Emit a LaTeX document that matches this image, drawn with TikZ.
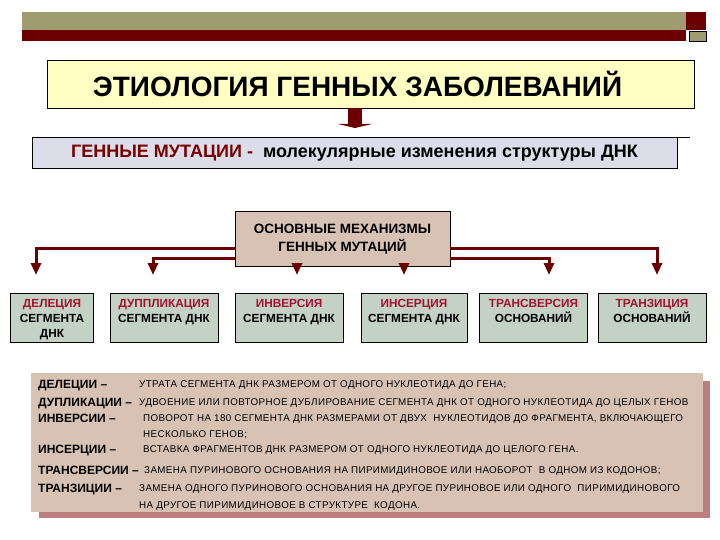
\documentclass[tikz,border=0pt]{standalone}
\usepackage{fontspec}
\setmainfont{Liberation Sans}
\usepackage{tikz}
\usetikzlibrary{positioning, arrows.meta}
\definecolor{olivebar}{RGB}{158,156,112}
\definecolor{darkbar}{RGB}{108,0,0}
\definecolor{titlefill}{RGB}{255,255,196}
\definecolor{mutfill}{RGB}{221,221,234}
\definecolor{tanfill}{RGB}{216,194,180}
\definecolor{sagefill}{RGB}{196,210,198}
\definecolor{shadowred}{RGB}{188,126,126}
\definecolor{mutred}{RGB}{120,0,0}
\definecolor{boxred}{RGB}{168,16,48}
\tikzset{
    rowbox/.style={draw=black, line width=0.9pt, fill=sagefill, minimum height=49pt, inner sep=0pt},
    rowtext/.style={anchor=north, align=center, inner sep=0pt, font=\bfseries\fontsize{11.8}{15}\selectfont},
    conn/.style={darkbar, line width=3pt, -{Triangle[width=10pt,length=12pt]}},
    lab/.style={anchor=base west, inner sep=0pt, font=\bfseries\fontsize{12}{14}\selectfont},
    desc/.style={anchor=base west, inner sep=0pt, font=\fontsize{9.8}{11}\selectfont\addfontfeatures{LetterSpace=4}},
}

\begin{document}
\begin{tikzpicture}[x=1pt, y=-1pt]
    \useasboundingbox (0,0) rectangle (720,540);
    % top bar
    \fill[olivebar] (22,12) rectangle (686,30);
    \fill[darkbar] (22,30) rectangle (686,41);
    \fill[darkbar] (686,12) rectangle (706,30);
    \filldraw[fill=olivebar, draw=black, line width=0.6pt] (689,31) rectangle (706,41);

    \node[draw=black, line width=0.9pt, fill=titlefill, minimum width=647pt, minimum height=48pt, font=\bfseries\fontsize{28}{32}\selectfont](title) at (370.5,84){ЭТИОЛОГИЯ ГЕННЫХ ЗАБОЛЕВАНИЙ\hspace*{26pt}};
    \coordinate (tip) at (355,128);
    \draw[darkbar, line width=14pt, -{Triangle[width=34pt,length=4pt]}] (title.south -| tip) -- (tip);

    \draw[line width=0.9pt] (32,137) -- (690,137);
    \node[draw=black, line width=0.9pt, fill=mutfill, minimum width=645pt, minimum height=31pt, font=\bfseries\fontsize{18}{22}\selectfont](mut) at (354.5,153){\textcolor{mutred}{ГЕННЫЕ МУТАЦИИ -} \ молекулярные изменения структуры ДНК};

    \node[draw=black, line width=0.9pt, fill=tanfill, minimum width=215pt, minimum height=55pt, align=center, font=\bfseries\fontsize{13.5}{18}\selectfont](mech) at (342.5,239){ОСНОВНЫЕ МЕХАНИЗМЫ\\ГЕННЫХ МУТАЦИЙ};

    % row of mechanisms
    \node[rowbox, minimum width=83pt](del) at (52,318){};
    \node[rowbox, minimum width=108pt](dup) at (164,318){};
    \node[rowbox, minimum width=108pt](inv) at (289,318){};
    \node[rowbox, minimum width=106pt](ins) at (414,318){};
    \node[rowbox, minimum width=108pt](trv) at (533.5,318){};
    \node[rowbox, minimum width=108pt](trz) at (652,318){};
    \node[rowtext, below=6pt of del.north](delt){\textcolor{boxred}{ДЕЛЕЦИЯ}\\СЕГМЕНТА\\ДНК};
    \node[rowtext, below=6pt of dup.north](dupt){\textcolor{boxred}{ДУППЛИКАЦИЯ}\\СЕГМЕНТА ДНК};
    \node[rowtext, below=6pt of inv.north](invt){\textcolor{boxred}{ИНВЕРСИЯ}\\СЕГМЕНТА ДНК};
    \node[rowtext, below=6pt of ins.north](inst){\textcolor{boxred}{ИНСЕРЦИЯ}\\СЕГМЕНТА ДНК};
    \node[rowtext, below=6pt of trv.north](trvt){\textcolor{boxred}{ТРАНСВЕРСИЯ}\\ОСНОВАНИЙ};
    \node[rowtext, below=6pt of trz.north](trzt){\textcolor{boxred}{ТРАНЗИЦИЯ}\\ОСНОВАНИЙ};

    % connectors
    \coordinate (a1) at (36,275);
    \coordinate (a2) at (153,275);
    \coordinate (a3) at (297,275);
    \coordinate (a4) at (404,275);
    \coordinate (a5) at (549,275);
    \coordinate (a6) at (657,275);
    \draw[conn] ([yshift=-9pt]mech.west) -| (a1);
    \draw[conn] ([yshift=-19pt]mech.west) -| (a2);
    \draw[conn] (mech.south -| a3) -- (a3);
    \draw[conn] (mech.south -| a4) -- (a4);
    \draw[conn] ([yshift=-19pt]mech.east) -| (a5);
    \draw[conn] ([yshift=-9pt]mech.east) -| (a6);

    % legend
    \fill[shadowred] (39,381) rectangle (710,518);
    \node[fill=tanfill, minimum width=672pt, minimum height=139pt, inner sep=0pt](legend) at (367,442.5){};
    \node[lab](ldel) at (38,388){ДЕЛЕЦИИ –};
    \node[lab](ldup) at (38,406){ДУПЛИКАЦИИ –};
    \node[lab](linv) at (38,422){ИНВЕРСИИ –};
    \node[lab](lins) at (38,453){ИНСЕРЦИИ –};
    \node[lab](ltrv) at (38,474){ТРАНСВЕРСИИ –};
    \node[lab](ltrz) at (38,492){ТРАНЗИЦИИ –};
    \node[desc](tdel) at (139,387.5){УТРАТА СЕГМЕНТА ДНК РАЗМЕРОМ ОТ ОДНОГО НУКЛЕОТИДА ДО ГЕНА;};
    \node[desc](tdup) at (139,405.5){УДВОЕНИЕ ИЛИ ПОВТОРНОЕ ДУБЛИРОВАНИЕ СЕГМЕНТА ДНК ОТ ОДНОГО НУКЛЕОТИДА ДО ЦЕЛЫХ ГЕНОВ};
    \node[desc](tinv) at (143,421.5){ПОВОРОТ НА 180 СЕГМЕНТА ДНК РАЗМЕРАМИ ОТ ДВУХ \ НУКЛЕОТИДОВ ДО ФРАГМЕНТА, ВКЛЮЧАЮЩЕГО};
    \node[desc](tinv2) at (143,437.5){НЕСКОЛЬКО ГЕНОВ;};
    \node[desc](tins) at (143,452.5){ВСТАВКА ФРАГМЕНТОВ ДНК РАЗМЕРОМ ОТ ОДНОГО НУКЛЕОТИДА ДО ЦЕЛОГО ГЕНА.};
    \node[desc](ttrv) at (144,473.5){ЗАМЕНА ПУРИНОВОГО ОСНОВАНИЯ НА ПИРИМИДИНОВОЕ ИЛИ НАОБОРОТ \ В ОДНОМ ИЗ КОДОНОВ;};
    \node[desc](ttrz) at (139,491.5){ЗАМЕНА ОДНОГО ПУРИНОВОГО ОСНОВАНИЯ НА ДРУГОЕ ПУРИНОВОЕ ИЛИ ОДНОГО \ ПИРИМИДИНОВОГО};
    \node[desc](ttrz2) at (139,508.5){НА ДРУГОЕ ПИРИМИДИНОВОЕ В СТРУКТУРЕ \ КОДОНА.};
\end{tikzpicture}
\end{document}
